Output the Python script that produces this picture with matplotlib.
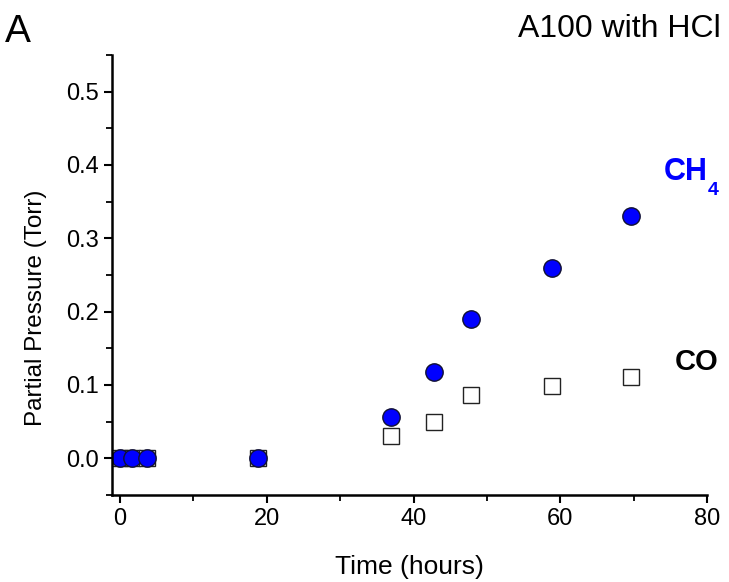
import matplotlib.pyplot as plt
from matplotlib.ticker import MultipleLocator

plt.rcParams['font.family'] = ['Liberation Sans', 'DejaVu Sans']

# sampling times (hours) and partial pressures (Torr)
time_h = [0, 1.6, 3.7, 18.8, 36.9, 42.8, 47.8, 58.9, 69.6]
ch4 = [0, 0, 0, 0, 0.056, 0.118, 0.19, 0.26, 0.33]
co = [0, 0, 0, 0, 0.03, 0.049, 0.086, 0.099, 0.111]

fig = plt.figure(figsize=(7.29, 5.82), dpi=100)
ax = fig.add_axes([0.1536, 0.1495, 0.8164, 0.756])

ax.plot(time_h, co, linestyle='none', marker='s', markersize=11,
        markerfacecolor='white', markeredgecolor='#222222', markeredgewidth=1.0)
ax.plot(time_h, ch4, linestyle='none', marker='o', markersize=12.5,
        markerfacecolor='#0000ff', markeredgecolor='#111133', markeredgewidth=1.0)

ax.set_xlim(-1.1, 80)
ax.set_ylim(-0.05, 0.55)
ax.xaxis.set_major_locator(MultipleLocator(20))
ax.xaxis.set_minor_locator(MultipleLocator(10))
ax.yaxis.set_major_locator(MultipleLocator(0.1))
ax.yaxis.set_minor_locator(MultipleLocator(0.05))
ax.yaxis.set_major_formatter(plt.FormatStrFormatter('%.1f'))

for side in ('top', 'right'):
    ax.spines[side].set_visible(False)
for side in ('left', 'bottom'):
    ax.spines[side].set_linewidth(1.8)

ax.tick_params(which='major', direction='out', length=6, width=1.5, labelsize=17)
ax.tick_params(which='minor', direction='out', length=4, width=1.3)

ax.set_xlabel('Time (hours)', fontsize=19, va='center')
ax.xaxis.set_label_coords(0.5, -0.164)
ax.set_ylabel('Partial Pressure (Torr)', fontsize=17.5, va='center')
ax.yaxis.set_label_coords(-0.128, 0.426)

# species labels
ax.text(80, 0.39, 'CH', color='#0000ff', fontsize=22, fontweight='bold',
        ha='right', va='center', clip_on=False)
ax.text(80.1, 0.365, '4', color='#0000ff', fontsize=14, fontweight='bold',
        ha='left', va='center', clip_on=False)
ax.text(81.6, 0.132, 'CO', color='black', fontsize=21, fontweight='bold',
        ha='right', va='center', clip_on=False)

fig.text(0.007, 0.945, 'A', fontsize=28, ha='left', va='center')
fig.text(0.988, 0.950, 'A100 with HCl', fontsize=23, ha='right', va='center')

fig.savefig('out.png', dpi=100)
